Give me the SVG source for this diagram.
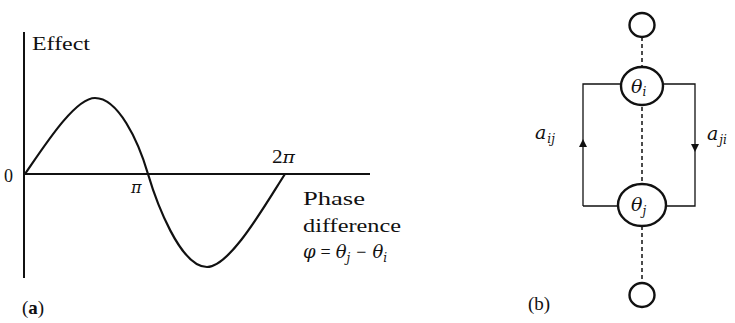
<svg xmlns="http://www.w3.org/2000/svg" width="735" height="323" viewBox="0 0 735 323">
<style>
text{font-family:"Liberation Serif","DejaVu Serif",serif;fill:#111;font-size:18px;}
.m{font-style:italic;font-family:"DejaVu Serif","Liberation Serif",serif;}
.ax{stroke:#111;stroke-width:2;fill:none;}
.crv{stroke:#111;stroke-width:2.2;fill:none;}
.edge{stroke:#111;stroke-width:1.3;fill:none;}
.dash{stroke:#111;stroke-width:1.5;stroke-dasharray:4 3;fill:none;}
.node{fill:#fff;stroke:#111;stroke-width:2.4;}
.sm{font-size:12px;}
</style>
<defs>
<marker id="ah" viewBox="0 0 10 10" refX="10" refY="5" markerWidth="8" markerHeight="10" markerUnits="userSpaceOnUse" orient="auto">
<path d="M0,0 L10,5 L0,10 Z" fill="#111"/>
</marker>
</defs>
<g id="plot-a">
<line class="ax" x1="24" y1="32" x2="24" y2="278"/>
<line class="ax" x1="23" y1="174" x2="370" y2="174"/>
<path class="crv" d="M25,174 C45,145 75,98 95,98 C118,98 138,140 148,174 C156,201 180,267 207,267 C230,267 265,205 285,174"/>
<text x="32" y="50" textLength="58" lengthAdjust="spacingAndGlyphs">Effect</text>
<text x="4" y="182">0</text>
<text class="m" x="131" y="193" style="font-size:16px">π</text>
<text x="272" y="163" textLength="23" lengthAdjust="spacingAndGlyphs">2<tspan class="m" style="font-size:16px">π</tspan></text>
<text x="303" y="205" textLength="62" lengthAdjust="spacingAndGlyphs">Phase</text>
<text x="303" y="232" textLength="98" lengthAdjust="spacingAndGlyphs">difference</text>
<text x="303" y="258"><tspan class="m" style="font-size:18px">φ</tspan><tspan dx="5">=</tspan><tspan class="m" style="font-size:18px" dx="5">θ</tspan><tspan class="m sm" dy="4">j</tspan><tspan dy="-4" dx="6">−</tspan><tspan class="m" style="font-size:18px" dx="6">θ</tspan><tspan class="m sm" dy="4">i</tspan></text>
<text x="22" y="314" style="font-size:19px">(<tspan font-weight="bold">a</tspan>)</text>
</g>
<g id="connectors">
<line class="dash" x1="642" y1="37" x2="642" y2="283"/>
<path class="edge" d="M583,206 L583,139" marker-end="url(#ah)"/>
<path class="edge" d="M583,139 L583,84 L695,84 L695,152" marker-end="url(#ah)"/>
<path class="edge" d="M695,152 L695,206 L583,206"/>
</g>
<g id="node-top">
<ellipse class="node" cx="642" cy="25" rx="12.5" ry="12" stroke-width="2"/>
</g>
<g id="node-theta-i">
<ellipse class="node" cx="642" cy="86" rx="21" ry="19"/>
<text class="m" x="631" y="93" style="font-size:19px">θ<tspan class="sm" dy="3">i</tspan></text>
</g>
<g id="node-theta-j">
<ellipse class="node" cx="642" cy="205" rx="24" ry="21"/>
<text class="m" x="631" y="211" style="font-size:19px">θ<tspan class="sm" dy="4">j</tspan></text>
</g>
<g id="node-bottom">
<ellipse class="node" cx="642" cy="295" rx="12.5" ry="12" stroke-width="2"/>
</g>
<g id="labels-b">
<text class="m" x="535" y="139" style="font-size:19px">a<tspan class="sm" dy="4" dx="1">ij</tspan></text>
<text class="m" x="707" y="140" style="font-size:19px">a<tspan class="sm" dy="4" dx="1">ji</tspan></text>
<text x="528" y="310" style="font-size:19px">(b)</text>
</g>
</svg>
